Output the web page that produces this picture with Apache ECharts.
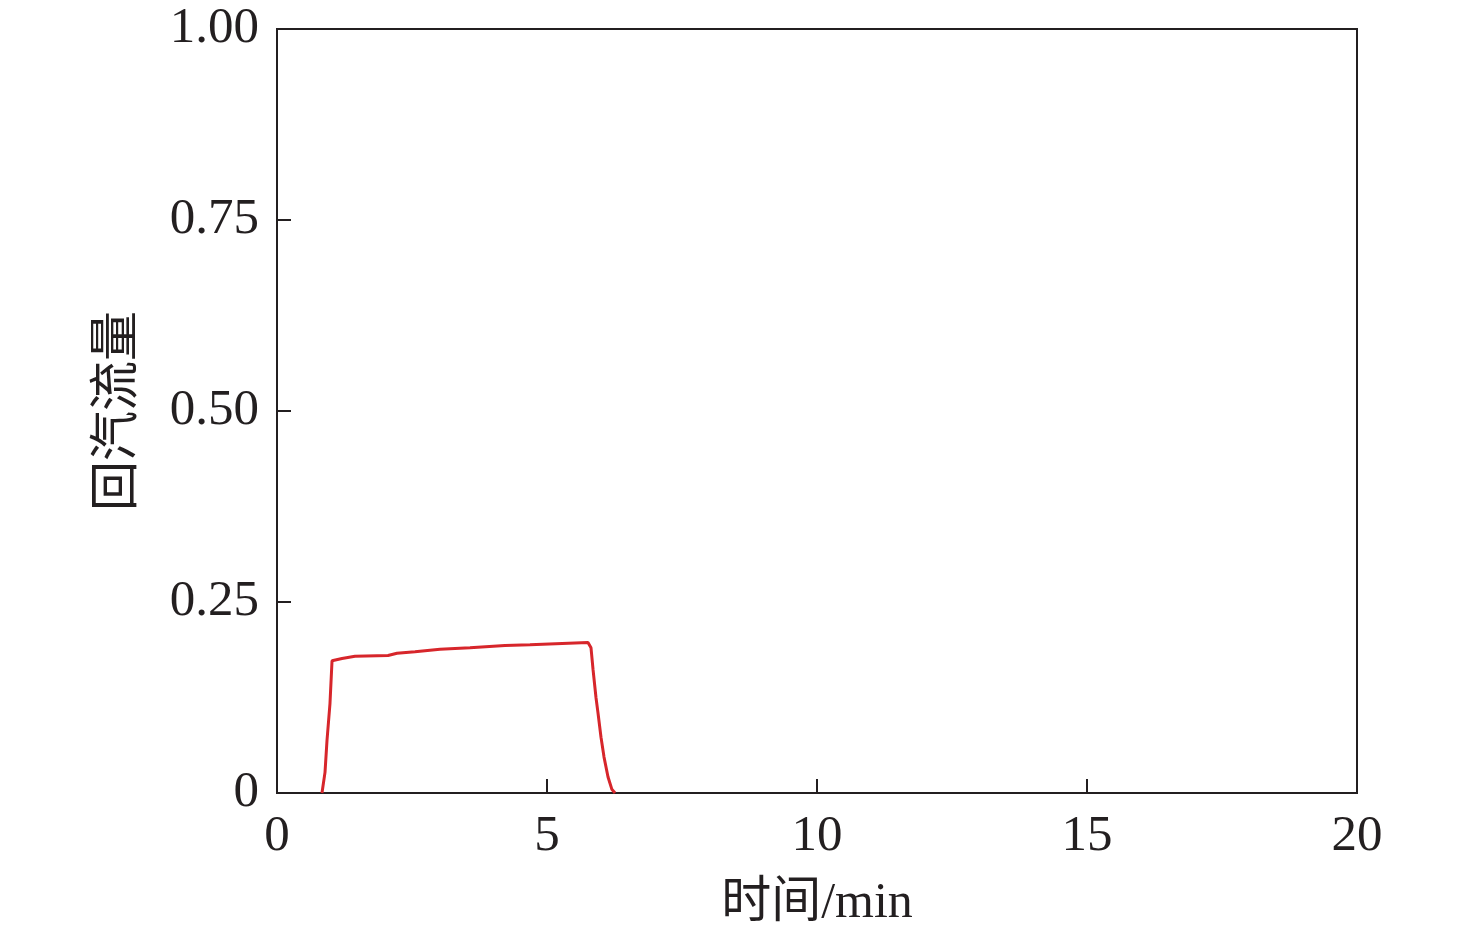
<!DOCTYPE html>
<html><head><meta charset="utf-8">
<script src="https://cdn.jsdelivr.net/npm/echarts@6/dist/echarts.min.js"></script>
<style>html,body{margin:0;padding:0;background:#fff}#c{width:1476px;height:934px}</style>
</head><body><div id="c"></div>
<script>
const times = [0.833,0.889,0.926,0.981,1.019,1.204,1.444,2.056,2.222,2.556,3.019,3.574,4.222,4.685,5.759,5.815,5.852,5.907,5.944,6.0,6.056,6.13,6.20,6.26];
const flow  = [0,0.027,0.069,0.117,0.173,0.176,0.179,0.180,0.183,0.185,0.188,0.190,0.193,0.194,0.197,0.190,0.162,0.125,0.105,0.073,0.047,0.021,0.005,0];
const xTicks = [0,5,10,15,20];
const yTicks = [0,0.25,0.5,0.75,1.0];
const font = '"Liberation Serif", "Noto Sans CJK SC", serif';
const chart = echarts.init(document.getElementById('c'));
chart.setOption({
  animation:false,
  grid:{left:277,right:119,top:29,bottom:138,show:true,borderColor:'#231f20',borderWidth:2,backgroundColor:'transparent'},
  xAxis:{type:'value',min:xTicks[0],max:xTicks[xTicks.length-1],interval:5,
    name:'时间/min',nameLocation:'middle',nameGap:86,
    nameTextStyle:{fontFamily:font,fontSize:50,color:'#231f20'},
    axisLine:{lineStyle:{color:'#231f20',width:2}},
    axisTick:{inside:true,length:14,lineStyle:{color:'#231f20',width:2}},
    axisLabel:{fontFamily:font,fontSize:51,color:'#231f20',margin:18},
    splitLine:{show:false}},
  yAxis:{type:'value',min:yTicks[0],max:yTicks[yTicks.length-1],interval:0.25,
    name:'回汽流量',nameLocation:'middle',nameGap:133,nameRotate:90,
    nameTextStyle:{fontFamily:font,fontSize:50,color:'#231f20'},
    axisLine:{lineStyle:{color:'#231f20',width:2}},
    axisTick:{inside:true,length:14,lineStyle:{color:'#231f20',width:2}},
    axisLabel:{fontFamily:font,fontSize:51,color:'#231f20',margin:18,
      formatter:v=>v===0?'0':v.toFixed(2)},
    splitLine:{show:false}},
  series:[{type:'line',data:times.map((t,i)=>[t,flow[i]]),showSymbol:false,
    lineStyle:{color:'#d7262b',width:3}}]
});
</script></body></html>
